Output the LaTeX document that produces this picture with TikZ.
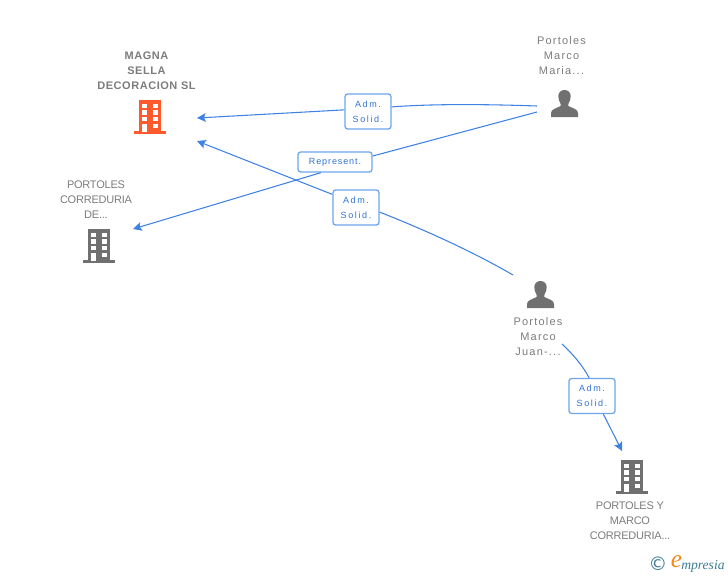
\documentclass[tikz,border=0pt]{standalone}
\usepackage{fontspec}
\setmainfont{Liberation Sans}
\newfontfamily\logofont{Liberation Serif}
\usetikzlibrary{arrows.meta,positioning}
\definecolor{linkblue}{HTML}{3F82E4}
\definecolor{boxblue}{HTML}{6FA6EC}
\definecolor{labelblue}{HTML}{2F72D6}
\definecolor{iconcolor}{HTML}{707070}
\definecolor{mainicon}{HTML}{FF5A2B}
\definecolor{labelgrey}{HTML}{7C7C7C}
\definecolor{logoteal}{HTML}{3B7C93}
\definecolor{logoorange}{HTML}{F28A1C}
\begin{document}
\begin{tikzpicture}[x=0.75pt,y=-0.75pt,
    entity/.style={align=center,text=labelgrey,inner sep=0pt,font=\fontsize{8.25}{11.25}\selectfont\addfontfeature{LetterSpace=-2}},
    person name/.style={entity,font=\fontsize{8.25}{11.25}\selectfont\addfontfeature{LetterSpace=11}},
    mainentity/.style={entity,font=\fontsize{8.25}{11.25}\selectfont\bfseries\addfontfeature{LetterSpace=5}},
    rel/.style={draw=boxblue,line width=1pt,rounded corners=2pt,fill=white,text=labelblue,align=center,inner sep=0pt,minimum height=#1*0.75pt,font=\fontsize{6.75}{11.25}\selectfont\addfontfeature{LetterSpace=18}},
    link/.style={draw=linkblue,line width=0.8pt},
    linktip/.style={link,-{Stealth[length=6.5pt,width=6.5pt,inset=1.2pt]}},
    pics/building/.style={code={
        \fill[#1] (-11,-17) rectangle (11,15);
        \fill[#1] (-16,14) rectangle (16,17);
        \foreach \y in {-13.2,-6.7,-0.2}{
            \fill[white] (-7.7,\y) rectangle +(5,4.5);
            \fill[white] (2.5,\y) rectangle +(5,4.5);
        }
        \fill[white] (2.5,6.8) rectangle +(5,4.5);
        \fill[white] (-7.7,7) rectangle (-2.7,15);
    }},
    pics/person/.style={code={
        \fill[iconcolor] (-13.5,13.5) -- (-13.5,9.5) .. controls (-13.5,6) and (-9,5) .. (-3.8,2.5)
            -- (-3.8,0.5) .. controls (-5.5,-2) and (-6.2,-5) .. (-6.2,-7.5)
            .. controls (-6.2,-11) and (-3.5,-13.5) .. (0,-13.5)
            .. controls (3.5,-13.5) and (6.2,-11) .. (6.2,-7.5)
            .. controls (6.2,-5) and (5.5,-2) .. (3.8,0.5) -- (3.8,2.5)
            .. controls (9,5) and (13.5,6) .. (13.5,9.5) -- (13.5,13.5) -- cycle;
    }}]
\useasboundingbox (0,0) rectangle (728,575);

\pic (magna) at (150,117) {building=mainicon};
\pic (correduria) at (99,246) {building=iconcolor};
\pic (marco) at (632,477) {building=iconcolor};
\pic (maria) at (564.5,103.5) {person};
\pic (juan) at (540.5,294.5) {person};

\node[mainentity] (magnaname) at (146.5,71) {MAGNA\\SELLA\\DECORACION SL};
\node[entity] (corredurianame) at (96,200) {PORTOLES\\CORREDURIA\\DE...};
\node[entity] (marconame) at (630,521) {PORTOLES Y\\MARCO\\CORREDURIA...};
\node[person name] (marianame) at (561.5,56) {Portoles\\Marco\\Maria...};
\node[person name] (juanname) at (538,337) {Portoles\\Marco\\Juan-...};

\coordinate (magnaA) at (197,118);
\coordinate (magnaB) at (197,141);
\coordinate (correduriaIn) at (133,229);
\coordinate (marcoIn) at (622,451);
\coordinate (mariaA) at (537,106);
\coordinate (mariaB) at (537,112);
\coordinate (juanA) at (513,275);
\coordinate (juanB) at (562,344);

\node[rel=35,minimum width=34.5pt] (solidA) at (368,111.5) {Adm.\\Solid.};
\node[rel=20,minimum width=55.5pt,font=\fontsize{6.75}{11.25}\selectfont\addfontfeature{LetterSpace=10}] (repres) at (335,162) {Represent.};
\node[rel=35,minimum width=34.5pt] (solidB) at (356,207.5) {Adm.\\Solid.};
\node[rel=35,minimum width=34.5pt] (solidC) at (592,396) {Adm.\\Solid.};

\draw[link] (mariaA) .. controls (480,104) and (430,104) .. (solidA.11);
\draw[linktip] (solidA.176) -- (magnaA);
\draw[link] (mariaB) -- (repres.9);
\draw[linktip] (repres.217) -- (correduriaIn);
\draw[link] (juanA) .. controls (470,250) and (420,228) .. (solidB.349);
\draw[linktip] (solidB.151) -- (magnaB);
\draw[link] (juanB) .. controls (575,356) and (584,368) .. (solidC.99);
\draw[linktip] (solidC.302) -- (marcoIn);

\node[inner sep=0pt,text=logoteal,font=\fontspec{DejaVu Sans}\fontsize{14}{14}\selectfont] (copyr) at (658,564) {©};
\node[inner sep=0pt,text=logoorange,font=\logofont\itshape\fontsize{19}{19}\selectfont] (logoe) at (676.5,562) {e};
\node[inner sep=0pt,text=logoteal,anchor=west,font=\logofont\itshape\fontsize{10.2}{12}\selectfont] (logotext) at (681,566) {mpresia};
\end{tikzpicture}
\end{document}
